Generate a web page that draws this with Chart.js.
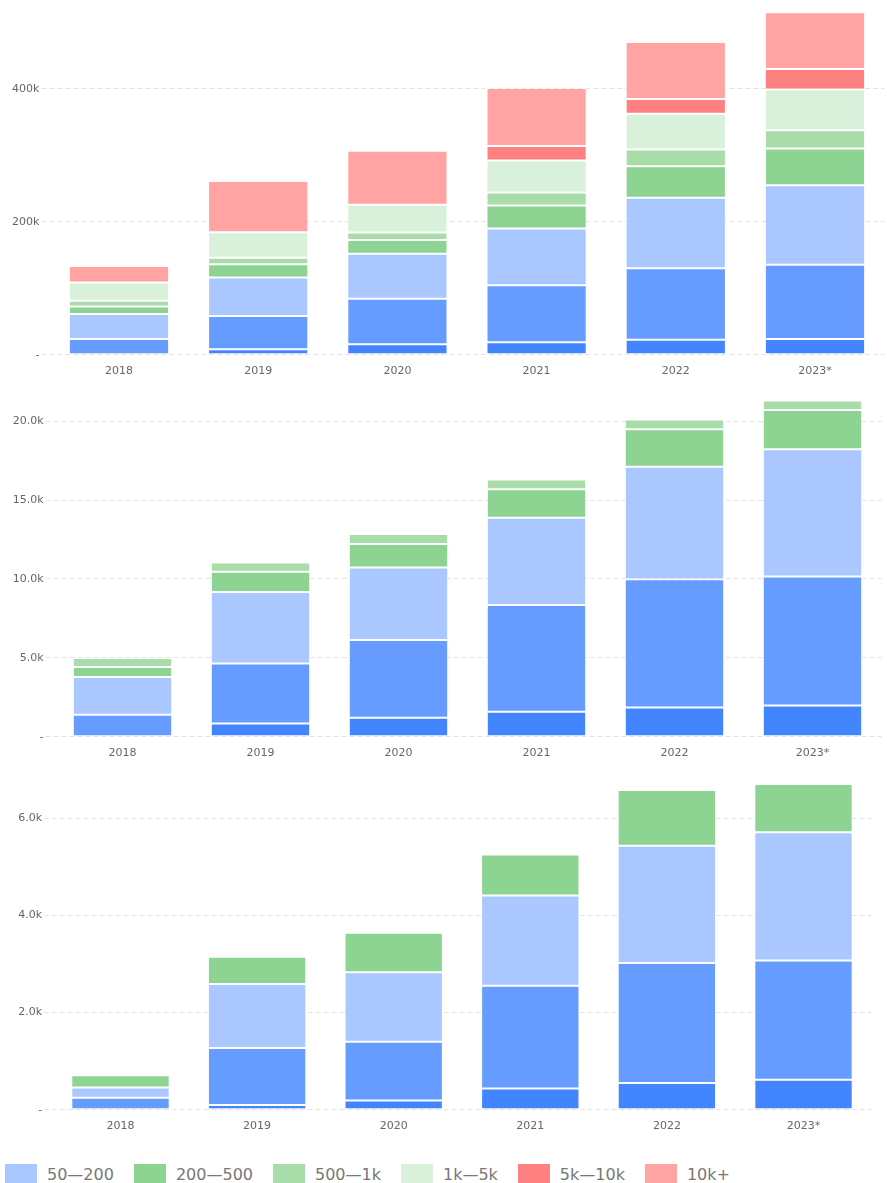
<!DOCTYPE html>
<html>
<head>
<meta charset="utf-8">
<script src="https://cdn.jsdelivr.net/npm/chart.js@4"></script>
<style>
  body { margin: 0; width: 887px; height: 1183px; overflow: hidden; background: #fff; position: relative; font-family: 'DejaVu Sans', sans-serif; }
  .box { position: absolute; left: 0; width: 887px; }
  #legend { position: absolute; left: 5px; top: 1164px; display: flex; align-items: center; color: #777; font-size: 16px; white-space: nowrap; }
  #legend .item { display: flex; align-items: center; margin-right: 20px; }
  #legend .swatch { width: 32px; height: 20px; margin-right: 10px; box-sizing: border-box; }
</style>
</head>
<body>
<div class="box" style="top:0;height:388px"><canvas id="chartTop"></canvas></div>
<div class="box" style="top:380px;height:390px"><canvas id="chartMid"></canvas></div>
<div class="box" style="top:760px;height:383px"><canvas id="chartLow"></canvas></div>
<div id="legend"></div>
<script>
const years = ['2018', '2019', '2020', '2021', '2022', '2023*'];
const bands = ['1—10', '10—50', '50—200', '200—500', '500—1k', '1k—5k', '5k—10k', '10k+'];
const bandColors = ['#4285ff', '#669bff', '#aac8ff', '#8dd391', '#a8dca8', '#d9f0db', '#ff8080', '#ffa3a3'];

// first chart, one array per band
const top1to10 = [0, 8500, 16000, 19000, 22500, 23600];
const top10to50 = [23600, 50000, 68100, 85700, 107800, 111700];
const top50to200 = [37600, 57600, 67700, 85100, 105700, 119800];
const top200to500 = [11400, 20100, 21000, 34600, 47700, 55000];
const top500to1k = [8600, 9900, 11000, 19500, 25000, 27700];
const top1kto5k = [27500, 38200, 41700, 48100, 53700, 61000];
const top5kto10k = [0, 0, 0, 22100, 22100, 31100];
const top10kPlus = [25000, 77100, 81200, 87200, 85700, 85300];

// second chart
const mid1to10 = [30, 850, 1200, 1580, 1860, 1990];
const mid10to50 = [1370, 3800, 4940, 6770, 8120, 8160];
const mid50to200 = [2390, 4530, 4580, 5530, 7130, 8060];
const mid200to500 = [630, 1270, 1490, 1810, 2380, 2490];
const mid500to1k = [570, 590, 630, 610, 610, 610];

// third chart
const low1to10 = [10, 100, 190, 440, 550, 620];
const low10to50 = [240, 1170, 1210, 2110, 2470, 2450];
const low50to200 = [210, 1320, 1430, 1860, 2410, 2640];
const low200to500 = [250, 560, 810, 840, 1150, 990];

Chart.defaults.font.family = "'DejaVu Sans', sans-serif";
Chart.defaults.font.size = 11;
Chart.defaults.color = '#666';

function makeChart(id, series, yMax, step, fmt, axisWidth, padRight) {
  const ctx = document.getElementById(id).getContext('2d');
  return new Chart(ctx, {
    type: 'bar',
    data: {
      labels: years,
      datasets: series.map((vals, i) => ({
        label: bands[i],
        data: vals,
        backgroundColor: bandColors[i],
        borderColor: 'rgba(255,255,255,0.4)',
        borderWidth: 1,
        borderSkipped: false
      }))
    },
    options: {
      responsive: true,
      maintainAspectRatio: false,
      animation: false,
      layout: { padding: { top: 10, right: padRight, left: 0, bottom: 0 } },
      plugins: { legend: { display: false }, tooltip: { enabled: false } },
      scales: {
        x: {
          stacked: true,
          grid: { display: false, drawTicks: false },
          border: { display: false },
          ticks: { padding: 10 }
        },
        y: {
          stacked: true,
          min: 0,
          max: yMax,
          // keep only the round steps, not the top of the range
          afterBuildTicks: scale => {
            const t = [];
            for (let v = 0; v <= scale.max; v += step) t.push({ value: v });
            scale.ticks = t;
          },
          afterFit: scale => { scale.width = axisWidth; },
          grid: {
            color: '#e4e4e4',
            tickColor: '#e4e4e4',
            tickLength: 8,
            tickBorderDash: [5, 3]
          },
          border: { display: false, dash: [5, 3] },
          ticks: {
            padding: 2,
            callback: v => v === 0 ? '-' : fmt(v)
          }
        }
      }
    }
  });
}

makeChart('chartTop',
  [top1to10, top10to50, top50to200, top200to500, top500to1k, top1kto5k, top5kto10k, top10kPlus],
  518500, 200000, v => (v / 1000) + 'k', 49.4, 2.4);

makeChart('chartMid',
  [mid1to10, mid10to50, mid50to200, mid200to500, mid500to1k],
  21970, 5000, v => (v / 1000).toFixed(1) + 'k', 53.5, 5.5);

makeChart('chartLow',
  [low1to10, low10to50, low50to200, low200to500],
  6990, 2000, v => (v / 1000).toFixed(1) + 'k', 52.2, 15.2);

// shared legend, the first two bands are not listed in the picture
const legend = document.getElementById('legend');
bands.slice(2).forEach((name, i) => {
  const item = document.createElement('div');
  item.className = 'item';
  const sw = document.createElement('span');
  sw.className = 'swatch';
  sw.style.background = bandColors[i + 2];
  const txt = document.createElement('span');
  txt.textContent = name;
  item.appendChild(sw);
  item.appendChild(txt);
  legend.appendChild(item);
});
</script>
</body>
</html>
